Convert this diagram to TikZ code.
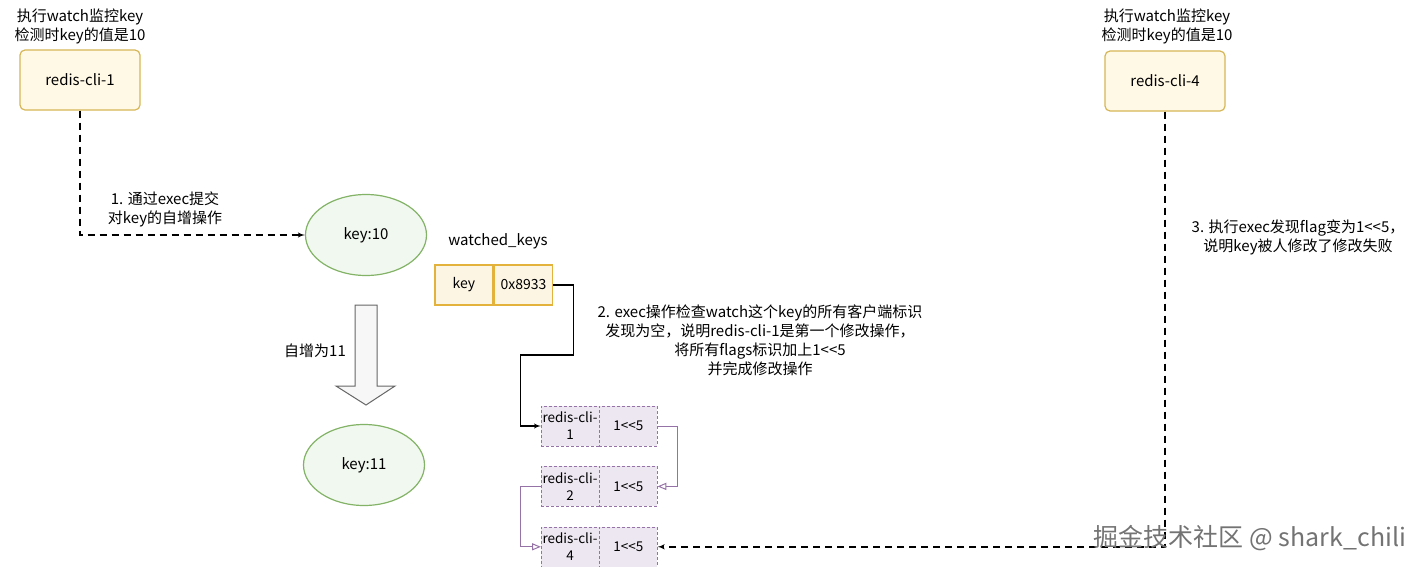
\documentclass[tikz,border=0pt]{standalone}
\usepackage{fontspec}
\setmainfont{Noto Sans CJK SC}
\usetikzlibrary{arrows}
\usetikzlibrary{positioning}
\usetikzlibrary{shapes.geometric}
\definecolor{clientline}{HTML}{D6B656}
\definecolor{clientfill}{HTML}{FFF9E6}
\definecolor{keyline}{HTML}{82B366}
\definecolor{keyfill}{HTML}{F1F8EF}
\definecolor{slotline}{HTML}{E3B23C}
\definecolor{slotfill}{HTML}{FDF5E4}
\definecolor{flagline}{HTML}{9673A6}
\definecolor{flagfill}{HTML}{EDE7F1}
\newcommand{\shl}{1<\kern0pt<5}
\tikzset{client/.style = {draw=clientline, fill=clientfill, rounded corners=5,
                          line width=1.2, minimum width=120, minimum height=60,
                          font=\fontsize{15}{18}\selectfont}}
\tikzset{keyval/.style = {ellipse, draw=keyline, fill=keyfill, line width=1.2,
                          minimum width=121, minimum height=81,
                          font=\fontsize{15}{18}\selectfont}}
\tikzset{slot/.style = {draw=slotline, fill=slotfill, line width=1.5, inner sep=0,
                        minimum width=58, minimum height=40,
                        font=\fontsize{14}{16}\selectfont}}
\tikzset{flag/.style = {draw=flagline, fill=flagfill, densely dashed, inner sep=0,
                        minimum width=58, minimum height=40, align=center,
                        font=\fontsize{13.5}{17}\selectfont}}
\tikzset{note/.style = {align=center, inner sep=0, font=\fontsize{15}{19}\selectfont}}
\tikzset{dasharrow/.style = {dash pattern=on 7pt off 5pt, line width=1.4, -latex'}}
\tikzset{link/.style = {draw=flagline, line width=1, -open triangle 45}}

\begin{document}
\begin{tikzpicture}[x=1pt, y=-1pt]
    \useasboundingbox (0, 0) rectangle (1425, 566);

    \node [client] (cli1) at (80, 80) {redis-cli-1};
    \node [note] (cli1note) at (80, 26) {执行watch监控key\\检测时key的值是10};

    \node [client] (cli4) at (1165, 81) {redis-cli-4};
    \node [note] (cli4note) at (1167, 26) {执行watch监控key\\检测时key的值是10};

    \node [keyval] (key10) at (366, 235) {key:10};
    \node [keyval] (key11) at (364, 465) {key:11};

    \node [note] (watched) at (498, 241) {watched\_keys};
    \node [slot] (slotkey) at (464, 285) {key};
    \node [slot, right=0pt of slotkey] (slotaddr) {0x8933};

    \node [flag] (r1name) at (570, 426) {redis-cli-\\1};
    \node [flag, right=0pt of r1name] (r1flag) {\shl};
    \node [flag, below=20pt of r1name] (r2name) {redis-cli-\\2};
    \node [flag, right=0pt of r2name] (r2flag) {\shl};
    \node [flag, below=20pt of r2name] (r4name) {redis-cli-\\4};
    \node [flag, right=0pt of r4name] (r4flag) {\shl};

    % block arrow between the two values
    \draw [draw=black!60, fill=black!3, line width=1]
        (355, 305) -- (377, 305) -- (377, 386) -- (395, 386) -- (366, 405)
        -- (336, 386) -- (355, 386) -- cycle;
    \node [note] (incr) at (315, 351) {自增为11};

    \node [note] (step1) at (165, 209) {1. 通过exec提交\\对key的自增操作};
    \node [note] (step2) at (760, 340) {2. exec操作检查watch这个key的所有客户端标识\\
        发现为空，说明redis-cli-1是第一个修改操作，\\将所有flags标识加上\shl\\并完成修改操作};
    \node [note] (step3) at (1298, 237) {3. 执行exec发现flag变为\shl，\\说明key被人修改了修改失败};

    \draw [dasharrow] (cli1.south) |- (key10.west);
    \draw [line width=1.3, -latex'] (slotaddr.east) -- ++(20, 0) -- ++(0, 70)
        -| ([xshift=-20pt]r1name.west) -- (r1name.west);
    \draw [link] (r1flag.east) -- ++(20, 0) |- (r2flag.east);
    \draw [link] (r2name.west) -- ++(-20, 0) |- (r4name.west);
    \draw [dasharrow] (cli4.south) |- (r4flag.east);

    \node [text=black!55, inner sep=0, font=\fontsize{25}{28}\selectfont] (mark)
        at (1250, 538) {掘金技术社区 @ shark\_chili};
  \end{tikzpicture}
\end{document}
